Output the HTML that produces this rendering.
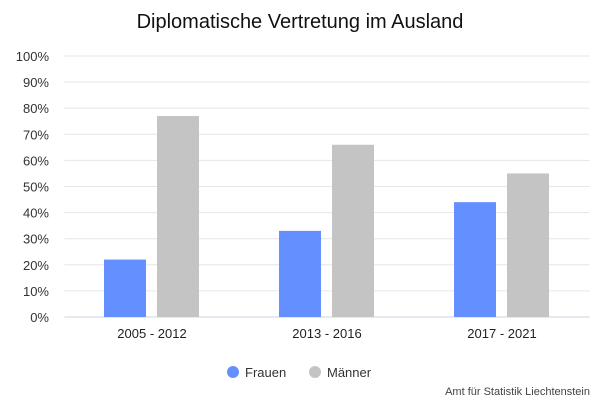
<!DOCTYPE html>
<html><head><meta charset="utf-8"><style>
body{margin:0;background:#fff;font-family:"Liberation Sans",sans-serif}
</style></head><body>
<svg id="chart" width="600" height="400" xmlns="http://www.w3.org/2000/svg">
<text x="300" y="28" text-anchor="middle" font-size="20" fill="#111">Diplomatische Vertretung im Ausland</text>
<g id="grid"></g><g id="bars"></g><g id="xlabels"></g>
<g>
<g><circle cx="233" cy="372" r="6" fill="#648ffe"/><text x="245" y="377" font-size="13" fill="#333">Frauen</text></g>
<g><circle cx="315" cy="372" r="6" fill="#c4c4c4"/><text x="327" y="377" font-size="13" fill="#333">Männer</text></g>
</g>
<text x="590" y="395" text-anchor="end" font-size="11" fill="#444">Amt für Statistik Liechtenstein</text>
</svg>
<script>
const categories=["2005 - 2012","2013 - 2016","2017 - 2021"];
const frauen=[22,33,44];
const maenner=[77,66,55];
const yTicks=[0,10,20,30,40,50,60,70,80,90,100];
const NS="http://www.w3.org/2000/svg";
const x0=64.5,x1=589.5,yB=317,yT=56;
const y=v=>yB-(yB-yT)*v/100;
const band=(x1-x0)/categories.length;
function mk(t,a,p,txt){const e=document.createElementNS(NS,t);for(const k in a)e.setAttribute(k,a[k]);if(txt!=null)e.textContent=txt;document.getElementById(p).appendChild(e);return e;}
yTicks.forEach(v=>{
 const l=mk('line',{x1:x0,x2:x1,y1:y(v),y2:y(v),stroke:v===0?'#ccd6e0':'#e6e6e6','stroke-width':1},'grid');
 
 
 const t=mk('text',{x:49,y:y(v)+5,'text-anchor':'end','font-size':13,fill:'#333'},'grid',v+'%');
 
 
});
categories.forEach((c,i)=>{
 const cx=x0+band*(i+0.5);
 const r1=mk('rect',{x:cx-48,y:y(frauen[i]),width:42,height:yB-y(frauen[i]),fill:'#648ffe'},'bars');
 
 
 const r2=mk('rect',{x:cx+5,y:y(maenner[i]),width:42,height:yB-y(maenner[i]),fill:'#c4c4c4'},'bars');
 
 
 const t=mk('text',{x:cx,y:338,'text-anchor':'middle','font-size':13,fill:'#222'},'xlabels',c);
 
 
});
</script>
</body></html>
